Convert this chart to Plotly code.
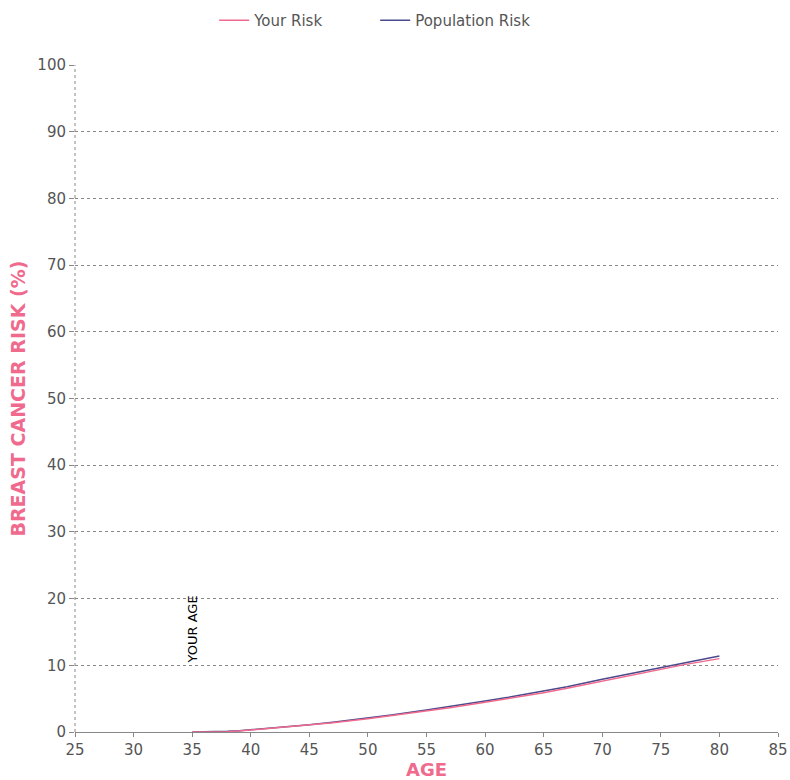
import plotly.graph_objects as go

ages = [35, 36, 37, 38, 39, 40, 42, 45, 47, 50, 52, 55, 57, 60, 62, 65, 67, 70, 72, 75, 77, 80]
your_risk = [0.0, 0.0, 0.0, 0.05, 0.15, 0.3, 0.55, 1.0, 1.4, 2.0, 2.45, 3.15, 3.65, 4.45, 5.0, 5.9, 6.55, 7.6, 8.3, 9.4, 10.1, 11.0]
pop_risk = [0.0, 0.0, 0.0, 0.1, 0.2, 0.35, 0.6, 1.08, 1.48, 2.1, 2.55, 3.3, 3.8, 4.65, 5.2, 6.15, 6.8, 7.9, 8.6, 9.75, 10.45, 11.4]
your_age = 35
x_ticks = list(range(25, 90, 5))
y_ticks = list(range(0, 110, 10))

PINK = "#f06a8e"
NAVY = "#4a4a8c"
FONT = "DejaVu Sans"

fig = go.Figure()
fig.add_trace(go.Scatter(x=ages, y=pop_risk, mode="lines", name="Population Risk",
                         line=dict(color=NAVY, width=1.5)))
fig.add_trace(go.Scatter(x=ages, y=your_risk, mode="lines", name="Your Risk",
                         line=dict(color=PINK, width=1.5)))

fig.add_annotation(x=your_age, y=10, xref="x", yref="y", text="YOUR AGE", textangle=-90,
                   showarrow=False, xanchor="center", yanchor="bottom", xshift=0,
                   font=dict(family=FONT, size=13, color="#000000"))

# y-axis title as annotation for exact placement
fig.add_annotation(x=-0.0825, y=0.5, xref="paper", yref="paper", text="<b>BREAST CANCER RISK (%)</b>",
                   textangle=-90, showarrow=False, xanchor="center", yanchor="middle",
                   font=dict(family=FONT, size=19, color=PINK))

fig.update_layout(
    width=790, height=780,
    margin=dict(l=75, r=12, t=65, b=48),
    paper_bgcolor="white", plot_bgcolor="white",
    font=dict(family=FONT, size=15, color="#555555"),
    legend=dict(orientation="h", x=0.427, xanchor="center", yref="container", y=0.995, yanchor="top",
                traceorder="reversed", entrywidth=116, entrywidthmode="pixels",
                font=dict(size=15, color="#555555")),
    xaxis=dict(range=[25, 85], tickvals=x_ticks, showgrid=False, zeroline=False,
               showline=True, linecolor="#888888", linewidth=1, ticks="outside",
               ticklen=4, tickcolor="#888888", automargin=False,
               title=dict(text="<b>AGE</b>", font=dict(family=FONT, size=18, color=PINK), standoff=8)),
    yaxis=dict(range=[0, 100], tickvals=y_ticks, showgrid=True, gridcolor="#888888",
               griddash="dot", gridwidth=1, zeroline=False, showline=False,
               ticks="outside", ticklen=5, tickcolor="#888888", automargin=False),
)
# dashed left axis line
fig.add_shape(type="line", xref="paper", yref="paper", x0=0, x1=0, y0=0, y1=1,
              line=dict(color="#888888", width=1, dash="dot"))

fig.write_html("out.html", config={"displayModeBar": False},
               post_script="document.body.style.margin='0px';document.body.style.overflow='hidden';")
